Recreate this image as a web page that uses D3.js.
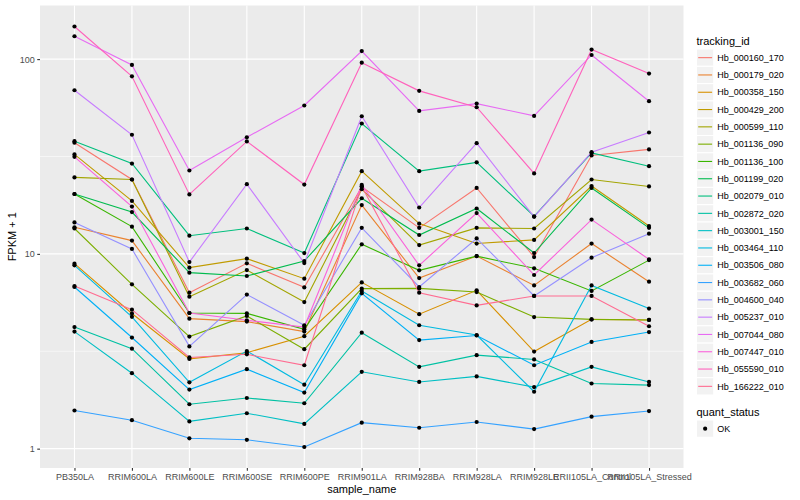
<!DOCTYPE html>
<html>
<head>
<meta charset="utf-8">
<script src="https://cdn.jsdelivr.net/npm/d3@7"></script>
<style>
  body { margin: 0; background: #fff; }
  svg { font-family: "Liberation Sans", Arial, sans-serif; }
</style>
</head>
<body>
<div id="chart"></div>
<script>
// Samples on the x axis
var samples = ["PB350LA", "RRIM600LA", "RRIM600LE", "RRIM600SE", "RRIM600PE", "RRIM901LA",
               "RRIM928BA", "RRIM928LA", "RRIM928LE", "RRII105LA_Control", "RRII105LA_Stressed"];
var trackingIds = ["Hb_000160_170", "Hb_000179_020", "Hb_000358_150", "Hb_000429_200", "Hb_000599_110",
                   "Hb_001136_090", "Hb_001136_100", "Hb_001199_020", "Hb_002079_010", "Hb_002872_020",
                   "Hb_003001_150", "Hb_003464_110", "Hb_003506_080", "Hb_003682_060", "Hb_004600_040",
                   "Hb_005237_010", "Hb_007044_080", "Hb_007447_010", "Hb_055590_010", "Hb_166222_010"];
var yTicks = [1, 10, 100];
var quantStatus = ["OK"];

// FPKM + 1, one value per sample (same order as samples)
var hb_000160_170 = [37.2, 24.1, 6.32, 8.94, 6.73, 22.1, 13.6, 21.8, 9.63, 32.0, 34.4];
var hb_000179_020 = [13.7, 11.7, 4.65, 4.49, 3.99, 17.8, 7.51, 9.74, 6.89, 11.3, 7.20];
var hb_000358_150 = [8.91, 4.94, 2.89, 3.11, 3.78, 7.14, 4.90, 6.50, 3.15, 4.61, 4.58];
var hb_000429_200 = [32.4, 18.7, 8.50, 9.45, 7.46, 26.6, 14.3, 11.3, 11.8, 22.3, 13.9];
var hb_000599_110 = [24.7, 24.1, 6.03, 8.26, 5.66, 21.5, 11.1, 13.6, 13.5, 24.1, 22.2];
var hb_001136_090 = [13.5, 6.98, 3.76, 4.80, 3.24, 6.63, 6.65, 6.37, 4.74, 4.61, 4.58];
var hb_001136_100 = [20.3, 13.8, 4.97, 4.95, 4.10, 11.2, 8.23, 9.74, 8.43, 6.45, 9.29];
var hb_001199_020 = [20.3, 16.4, 8.01, 7.70, 9.19, 19.3, 12.5, 17.1, 10.1, 21.8, 13.6];
var hb_002079_010 = [37.9, 29.1, 12.4, 13.5, 10.1, 46.7, 26.6, 29.5, 15.6, 33.0, 28.2];
var hb_002872_020 = [4.21, 3.26, 1.69, 1.82, 1.71, 3.94, 2.63, 3.02, 2.87, 2.16, 2.12];
var hb_003001_150 = [3.99, 2.44, 1.38, 1.52, 1.34, 2.48, 2.20, 2.35, 2.07, 2.63, 2.20];
var hb_003464_110 = [8.73, 4.75, 2.19, 3.17, 2.13, 6.45, 4.30, 3.83, 1.96, 6.89, 5.24];
var hb_003506_080 = [6.76, 3.72, 2.01, 2.56, 1.94, 6.27, 3.61, 3.81, 2.68, 3.53, 3.97];
var hb_003682_060 = [1.57, 1.40, 1.13, 1.11, 1.02, 1.36, 1.28, 1.37, 1.26, 1.46, 1.56];
var hb_004600_040 = [14.5, 10.6, 3.35, 6.18, 4.30, 13.6, 6.76, 12.0, 6.08, 9.56, 12.7];
var hb_005237_010 = [69.2, 40.9, 9.08, 22.8, 8.97, 50.9, 17.3, 37.0, 15.5, 33.3, 42.0];
var hb_007044_080 = [131, 93.4, 26.8, 39.7, 57.8, 110, 54.2, 59.1, 51.1, 105, 60.8];
var hb_007447_010 = [31.5, 17.5, 4.97, 4.56, 4.21, 22.6, 8.73, 16.2, 7.79, 15.0, 9.37];
var hb_055590_010 = [147, 81.6, 20.2, 37.8, 22.7, 95.9, 68.7, 56.6, 25.9, 112, 84.3];
var hb_166222_010 = [6.84, 5.17, 2.94, 3.05, 2.68, 22.2, 6.32, 5.44, 6.08, 6.08, 4.25];

var fpkm = [hb_000160_170, hb_000179_020, hb_000358_150, hb_000429_200, hb_000599_110,
            hb_001136_090, hb_001136_100, hb_001199_020, hb_002079_010, hb_002872_020,
            hb_003001_150, hb_003464_110, hb_003506_080, hb_003682_060, hb_004600_040,
            hb_005237_010, hb_007044_080, hb_007447_010, hb_055590_010, hb_166222_010];

// ggplot default hue palette for 20 levels
var palette = ["#F8766D", "#EA8331", "#D89000", "#C09B00", "#A3A500", "#7CAE00", "#39B600", "#00BB4E",
               "#00BF7D", "#00C1A3", "#00BFC4", "#00BAE0", "#00B0F6", "#35A2FF", "#9590FF", "#C77CFF",
               "#E76BF3", "#FA62DB", "#FF62BC", "#FF6C91"];

var width = 800, height = 500;
var panel = {left: 40, right: 683.5, top: 5.5, bottom: 468};

var svg = d3.select("#chart").append("svg")
    .attr("width", width).attr("height", height);
svg.append("rect").attr("width", width).attr("height", height).attr("fill", "#fff");

// Scales
var x = d3.scalePoint().domain(samples).range([panel.left, panel.right]).padding(0.6);
var logs = [];
fpkm.forEach(function(s) { s.forEach(function(v) { logs.push(Math.log10(v)); }); });
var lo = d3.min(logs), hi = d3.max(logs), pad = (hi - lo) * 0.05;
var y = d3.scaleLog().domain([Math.pow(10, lo - pad), Math.pow(10, hi + pad)])
    .range([panel.bottom, panel.top]);

// Panel + grid
var g = svg.append("g");
g.append("rect")
    .attr("x", panel.left).attr("y", panel.top)
    .attr("width", panel.right - panel.left).attr("height", panel.bottom - panel.top)
    .attr("fill", "#EBEBEB");

var minor = [Math.pow(10, 0.5), Math.pow(10, 1.5)];
g.selectAll(".minor").data(minor).enter().append("line")
    .attr("x1", panel.left).attr("x2", panel.right)
    .attr("y1", function(d) { return y(d); }).attr("y2", function(d) { return y(d); })
    .attr("stroke", "#fff").attr("stroke-width", 0.55);
g.selectAll(".majory").data(yTicks).enter().append("line")
    .attr("x1", panel.left).attr("x2", panel.right)
    .attr("y1", function(d) { return y(d); }).attr("y2", function(d) { return y(d); })
    .attr("stroke", "#fff").attr("stroke-width", 1.1);
g.selectAll(".majorx").data(samples).enter().append("line")
    .attr("y1", panel.top).attr("y2", panel.bottom)
    .attr("x1", function(d) { return x(d); }).attr("x2", function(d) { return x(d); })
    .attr("stroke", "#fff").attr("stroke-width", 1.1);

// Lines
var line = d3.line()
    .x(function(d, i) { return x(samples[i]); })
    .y(function(d) { return y(d); });
var lines = svg.append("g");
fpkm.forEach(function(s, k) {
    lines.append("path")
        .datum(s)
        .attr("fill", "none")
        .attr("stroke", palette[k])
        .attr("stroke-width", 1.1)
        .attr("d", line);
});

// Points (quant_status = OK)
var pts = svg.append("g");
fpkm.forEach(function(s) {
    s.forEach(function(v, i) {
        pts.append("circle")
            .attr("cx", x(samples[i])).attr("cy", y(v))
            .attr("r", 2.1).attr("fill", "#000");
    });
});

// Axes
var xAxis = svg.append("g")
    .attr("transform", "translate(0," + panel.bottom + ")")
    .call(d3.axisBottom(x).tickSize(2.75).tickPadding(2.5));
var yAxis = svg.append("g")
    .attr("transform", "translate(" + panel.left + ",0)")
    .call(d3.axisLeft(y).tickValues(yTicks).tickFormat(d3.format("d")).tickSize(2.75).tickPadding(2.5));
[xAxis, yAxis].forEach(function(a) {
    a.select(".domain").remove();
    a.selectAll(".tick line").attr("stroke", "#333333").attr("stroke-width", 1.1);
    a.selectAll(".tick text").attr("fill", "#4D4D4D").style("font-size", "9px")
        .style("font-family", "'Liberation Sans', Arial, sans-serif");
});

svg.append("text")
    .attr("x", (panel.left + panel.right) / 2).attr("y", 493)
    .attr("text-anchor", "middle").style("font-size", "11px").attr("fill", "#000")
    .text("sample_name");
svg.append("text")
    .attr("transform", "translate(16," + (panel.top + panel.bottom) / 2 + ") rotate(-90)")
    .attr("text-anchor", "middle").style("font-size", "11px").attr("fill", "#000")
    .text("FPKM + 1");

// Legend: tracking_id
var leg = svg.append("g");
var keyX = 696.5, keyTop = 49, keyH = 17.3;
leg.append("text").attr("x", keyX).attr("y", 44.5)
    .style("font-size", "11px").attr("fill", "#000").text("tracking_id");
trackingIds.forEach(function(id, k) {
    var cy = keyTop + keyH * k + keyH / 2;
    leg.append("rect")
        .attr("x", keyX).attr("y", cy - keyH / 2)
        .attr("width", keyH).attr("height", keyH)
        .attr("fill", "#F2F2F2").attr("stroke", "#fff").attr("stroke-width", 1.1);
    leg.append("line")
        .attr("x1", keyX + 1.7).attr("x2", keyX + keyH - 1.7)
        .attr("y1", cy).attr("y2", cy)
        .attr("stroke", palette[k]).attr("stroke-width", 1.1);
    leg.append("text")
        .attr("x", keyX + keyH + 3.5).attr("y", cy).attr("dy", "0.35em")
        .style("font-size", "9px").attr("fill", "#000").text(id);
});

// Legend: quant_status
var qTop = 420;
leg.append("text").attr("x", keyX).attr("y", 416)
    .style("font-size", "11px").attr("fill", "#000").text("quant_status");
quantStatus.forEach(function(q, k) {
    var cy = qTop + keyH * k + keyH / 2;
    leg.append("rect")
        .attr("x", keyX).attr("y", cy - keyH / 2)
        .attr("width", keyH).attr("height", keyH)
        .attr("fill", "#F2F2F2").attr("stroke", "#fff").attr("stroke-width", 1.1);
    leg.append("circle")
        .attr("cx", keyX + keyH / 2).attr("cy", cy).attr("r", 2.1).attr("fill", "#000");
    leg.append("text")
        .attr("x", keyX + keyH + 3.5).attr("y", cy).attr("dy", "0.35em")
        .style("font-size", "9px").attr("fill", "#000").text(q);
});
</script>
</body>
</html>
